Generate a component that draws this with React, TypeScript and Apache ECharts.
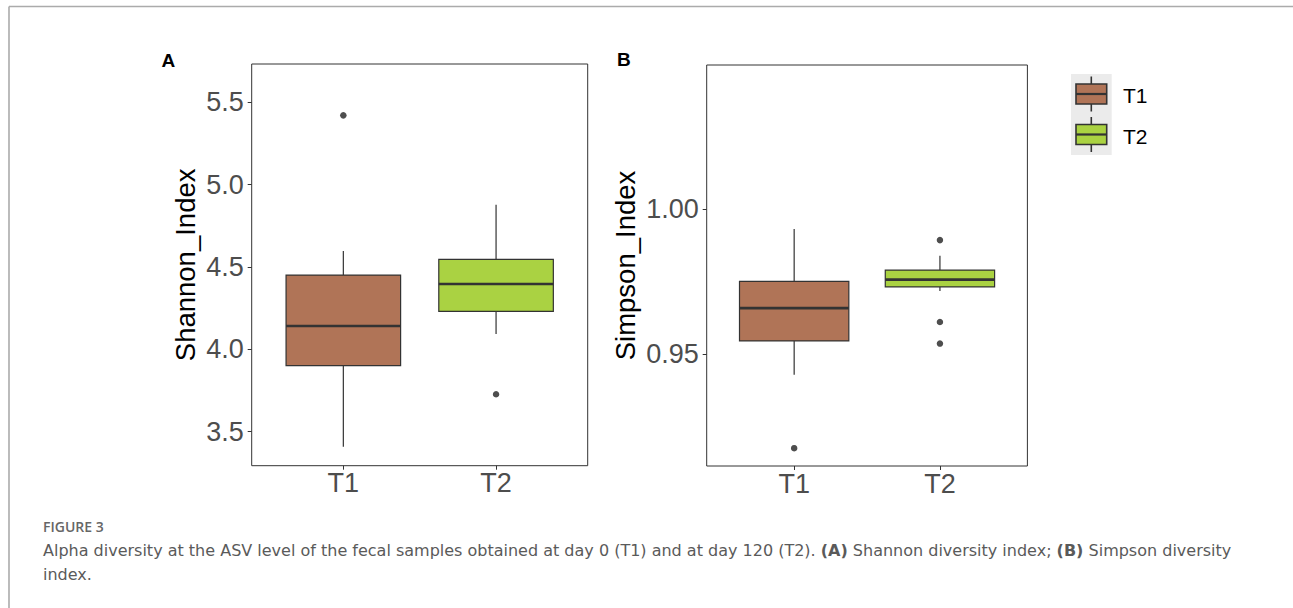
import React, { useEffect, useRef } from "react";
import * as echarts from "echarts";

// ---------- data ----------
const categories = ["T1", "T2"];
const groupColors = ["#B07457", "#AAD242"];
// [lower whisker, Q1, median, Q3, upper whisker]
const shannonT1 = [3.409, 3.901, 4.142, 4.451, 4.597];
const shannonT2 = [4.093, 4.231, 4.397, 4.547, 4.878];
const shannonOutT1 = [5.421];
const shannonOutT2 = [3.727];
const simpsonT1 = [0.943, 0.9546, 0.9659, 0.9751, 0.9931];
const simpsonT2 = [0.9718, 0.9732, 0.9757, 0.979, 0.9839];
const simpsonOutT1 = [0.9177];
const simpsonOutT2 = [0.9893, 0.9611, 0.9537];
const shannonTicks = [3.5, 4.0, 4.5, 5.0, 5.5];
const simpsonTicks = [0.95, 1.0];
const captionTitle = "FIGURE 3";

const FONT = "Liberation Sans, Arial, Helvetica, sans-serif";
const CAPFONT = "'DejaVu Sans', 'Open Sans', sans-serif";
const TITLEFONT = "'Open Sans', sans-serif";

function boxData(stats: number[][]) {
  return stats.map((s, i) => [i + 1, ...s]);
}
function outlierData(outs: number[][]) {
  const res: number[][] = [];
  outs.forEach((arr, i) => arr.forEach((v) => res.push([i + 1, v])));
  return res;
}

function renderBox(params: any, api: any) {
  const x = api.value(0);
  const lo = api.coord([x, api.value(1)]);
  const q1 = api.coord([x, api.value(2)]);
  const med = api.coord([x, api.value(3)]);
  const q3 = api.coord([x, api.value(4)]);
  const hi = api.coord([x, api.value(5)]);
  const w = api.size([0.75, 0])[0];
  const cx = med[0];
  const fill = groupColors[params.dataIndex];
  const stroke = "#333333";
  return {
    type: "group",
    children: [
      { type: "line", shape: { x1: cx, y1: hi[1], x2: cx, y2: q3[1] }, style: { stroke, lineWidth: 1.2 } },
      { type: "line", shape: { x1: cx, y1: q1[1], x2: cx, y2: lo[1] }, style: { stroke, lineWidth: 1.2 } },
      {
        type: "rect",
        shape: { x: cx - w / 2, y: q3[1], width: w, height: q1[1] - q3[1] },
        style: { fill, stroke, lineWidth: 1.2 },
      },
      { type: "line", shape: { x1: cx - w / 2, y1: med[1], x2: cx + w / 2, y2: med[1] }, style: { stroke, lineWidth: 2.6 } },
    ],
  };
}

function xAxisCfg(gridIndex: number) {
  return {
    type: "value",
    gridIndex,
    min: 0.4,
    max: 2.6,
    splitLine: { show: false },
    axisLine: { show: false },
    axisTick: { show: true, length: 4, customValues: [1, 2], lineStyle: { color: "#333", width: 1 } },
    axisLabel: {
      customValues: [1, 2],
      formatter: (v: number) => categories[Math.round(v) - 1] ?? "",
      color: "#4D4D4D",
      fontSize: 27,
      fontFamily: FONT,
      margin: 4,
    },
  };
}

function yAxisCfg(gridIndex: number, min: number, max: number, ticks: number[], digits: number, name: string, nameGap: number) {
  return {
    type: "value",
    gridIndex,
    min,
    max,
    name,
    nameLocation: "middle",
    nameRotate: 90,
    nameGap,
    nameTextStyle: { color: "#000", fontSize: 27.5, fontFamily: FONT },
    splitLine: { show: false },
    axisLine: { show: false },
    axisTick: { show: true, length: 4, customValues: ticks, lineStyle: { color: "#333", width: 1 } },
    axisLabel: {
      customValues: ticks,
      formatter: (v: number) => v.toFixed(digits),
      color: "#4D4D4D",
      fontSize: 27,
      fontFamily: FONT,
      margin: 8,
    },
  };
}

function legendKey(cy: number, color: string) {
  const cx = 1091.3;
  const stroke = "#333333";
  return [
    { type: "line", shape: { x1: cx, y1: cy - 17.5, x2: cx, y2: cy - 10 }, style: { stroke, lineWidth: 1.6 } },
    { type: "line", shape: { x1: cx, y1: cy + 10, x2: cx, y2: cy + 17.5 }, style: { stroke, lineWidth: 1.6 } },
    { type: "rect", shape: { x: 1076, y: cy - 10, width: 30.7, height: 20 }, style: { fill: color, stroke, lineWidth: 1.6 } },
    { type: "line", shape: { x1: 1076, y1: cy, x2: 1106.7, y2: cy }, style: { stroke, lineWidth: 2.2 } },
  ];
}

export default function App() {
  const ref = useRef<HTMLDivElement>(null);
  useEffect(() => {
    if (!ref.current) return;
    const chart = echarts.init(ref.current, undefined, { renderer: "svg" });
    const option: any = {
      animation: false,
      backgroundColor: "#ffffff",
      grid: [
        { left: 251.7, top: 64, width: 336, height: 401.7, show: true, borderColor: "#333", borderWidth: 1, backgroundColor: "transparent" },
        { left: 706.7, top: 65, width: 320.7, height: 401, show: true, borderColor: "#333", borderWidth: 1, backgroundColor: "transparent" },
      ],
      xAxis: [xAxisCfg(0), xAxisCfg(1)],
      yAxis: [
        yAxisCfg(0, 3.2934, 5.733, shannonTicks, 1, "Shannon_Index", 52),
        yAxisCfg(1, 0.91157, 1.04955, simpsonTicks, 2, "Simpson_Index", 67),
      ],
      series: [
        {
          type: "custom",
          name: "Shannon",
          xAxisIndex: 0,
          yAxisIndex: 0,
          renderItem: renderBox,
          encode: { x: 0, y: [1, 2, 3, 4, 5] },
          data: boxData([shannonT1, shannonT2]),
        },
        {
          type: "scatter",
          xAxisIndex: 0,
          yAxisIndex: 0,
          symbolSize: 6.5,
          itemStyle: { color: "#222222" },
          data: outlierData([shannonOutT1, shannonOutT2]),
        },
        {
          type: "custom",
          name: "Simpson",
          xAxisIndex: 1,
          yAxisIndex: 1,
          renderItem: renderBox,
          encode: { x: 0, y: [1, 2, 3, 4, 5] },
          data: boxData([simpsonT1, simpsonT2]),
        },
        {
          type: "scatter",
          xAxisIndex: 1,
          yAxisIndex: 1,
          symbolSize: 6.5,
          itemStyle: { color: "#222222" },
          data: outlierData([simpsonOutT1, simpsonOutT2]),
        },
      ],
      graphic: [
        // page frame
        { type: "line", shape: { x1: 9, y1: 6.5, x2: 1293, y2: 6.5 }, style: { stroke: "#ABABAB", lineWidth: 1.6 } },
        { type: "line", shape: { x1: 9, y1: 6.5, x2: 9, y2: 608 }, style: { stroke: "#ABABAB", lineWidth: 1.6 } },
        // panel tags
        { type: "text", x: 161.5, y: 60, style: { text: "A", fontSize: 19, fontWeight: "bold", fontFamily: FONT, fill: "#000", verticalAlign: "middle" } },
        { type: "text", x: 617, y: 59, style: { text: "B", fontSize: 19, fontWeight: "bold", fontFamily: FONT, fill: "#000", verticalAlign: "middle" } },
        // legend
        { type: "rect", shape: { x: 1071, y: 74, width: 40.7, height: 81 }, style: { fill: "#EBEBEB" } },
        ...legendKey(94, groupColors[0]),
        ...legendKey(134.5, groupColors[1]),
        { type: "text", x: 1123, y: 95, style: { text: categories[0], fontSize: 21, fontFamily: FONT, fill: "#000", verticalAlign: "middle" } },
        { type: "text", x: 1123, y: 136, style: { text: categories[1], fontSize: 21, fontFamily: FONT, fill: "#000", verticalAlign: "middle" } },
        // caption
        {
          type: "text",
          x: 43,
          y: 526,
          style: { text: captionTitle, fontSize: 14, fontWeight: 600, fontFamily: TITLEFONT, fill: "#666", verticalAlign: "middle" },
        },
        {
          type: "text",
          x: 43,
          y: 550,
          style: {
            text:
              "{n|Alpha diversity at the ASV level of the fecal samples obtained at day 0 (T1) and at day 120 (T2). }{b|(A)}{n| Shannon diversity index; }{b|(B)}{n| Simpson diversity}",
            verticalAlign: "middle",
            rich: {
              n: { fontSize: 16, fontFamily: CAPFONT, fill: "#5A5A5A", color: "#5A5A5A" },
              b: { fontSize: 16, fontFamily: CAPFONT, fontWeight: "bold", fill: "#5A5A5A", color: "#5A5A5A" },
            },
          },
        },
        {
          type: "text",
          x: 43,
          y: 574,
          style: { text: "index.", fontSize: 16, fontFamily: CAPFONT, fill: "#5A5A5A", verticalAlign: "middle" },
        },
      ],
    };
    chart.setOption(option);
    return () => chart.dispose();
  }, []);
  return <div ref={ref} style={{ position: "absolute", left: 0, top: 0, width: 1293, height: 608 }} />;
}
